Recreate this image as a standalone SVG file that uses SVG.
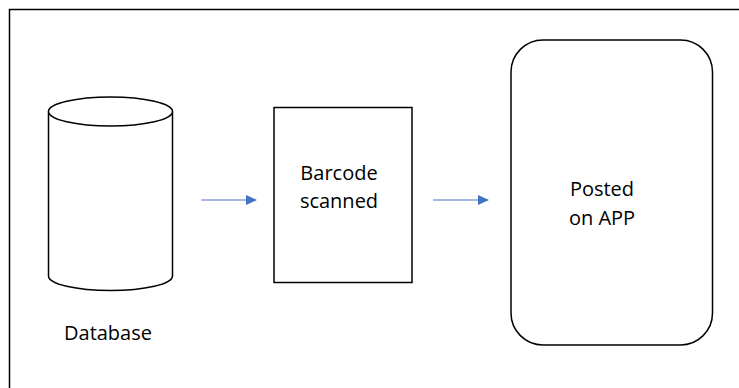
<svg xmlns="http://www.w3.org/2000/svg" width="739" height="388" viewBox="0 0 739 388">
<style>
.shape{fill:#fff;stroke:#000;stroke-width:1.5}
.lbl{font-family:"Open Sans","Noto Sans",sans-serif;font-size:20px;fill:#000}
.conn{stroke:#4472C4;stroke-width:1.2;fill:none}
</style>
<defs>
<marker id="arr" markerWidth="11" markerHeight="10" refX="10" refY="5" orient="auto" markerUnits="userSpaceOnUse">
<path d="M0,0 L11,5 L0,10 Z" fill="#4472C4"/>
</marker>
</defs>
<rect x="0" y="0" width="739" height="388" fill="#fff"/>
<rect x="9.5" y="9.5" width="740" height="390" fill="none" stroke="#000" stroke-width="1.5"/>
<g id="database">
<path class="shape" d="M48.5,111.5 L48.5,276 A62,14.5 0 0 0 172.5,276 L172.5,111.5"/>
<ellipse class="shape" cx="110.5" cy="111.5" rx="62" ry="14.5"/>
<text class="lbl" x="64" y="340">Database</text>
</g>
<g id="barcode">
<rect class="shape" x="274" y="107.5" width="138" height="175"/>
<text class="lbl" x="339" y="180" text-anchor="middle">Barcode</text>
<text class="lbl" x="339" y="208" text-anchor="middle">scanned</text>
</g>
<g id="app">
<rect class="shape" x="511" y="40" width="201.5" height="305" rx="32" ry="32"/>
<text class="lbl" x="602" y="196" text-anchor="middle">Posted</text>
<text class="lbl" x="602" y="225" text-anchor="middle">on APP</text>
</g>
<g id="connectors">
<line class="conn" x1="201.5" y1="200" x2="256" y2="200" marker-end="url(#arr)"/>
<line class="conn" x1="433" y1="200" x2="488" y2="200" marker-end="url(#arr)"/>
</g>
</svg>
